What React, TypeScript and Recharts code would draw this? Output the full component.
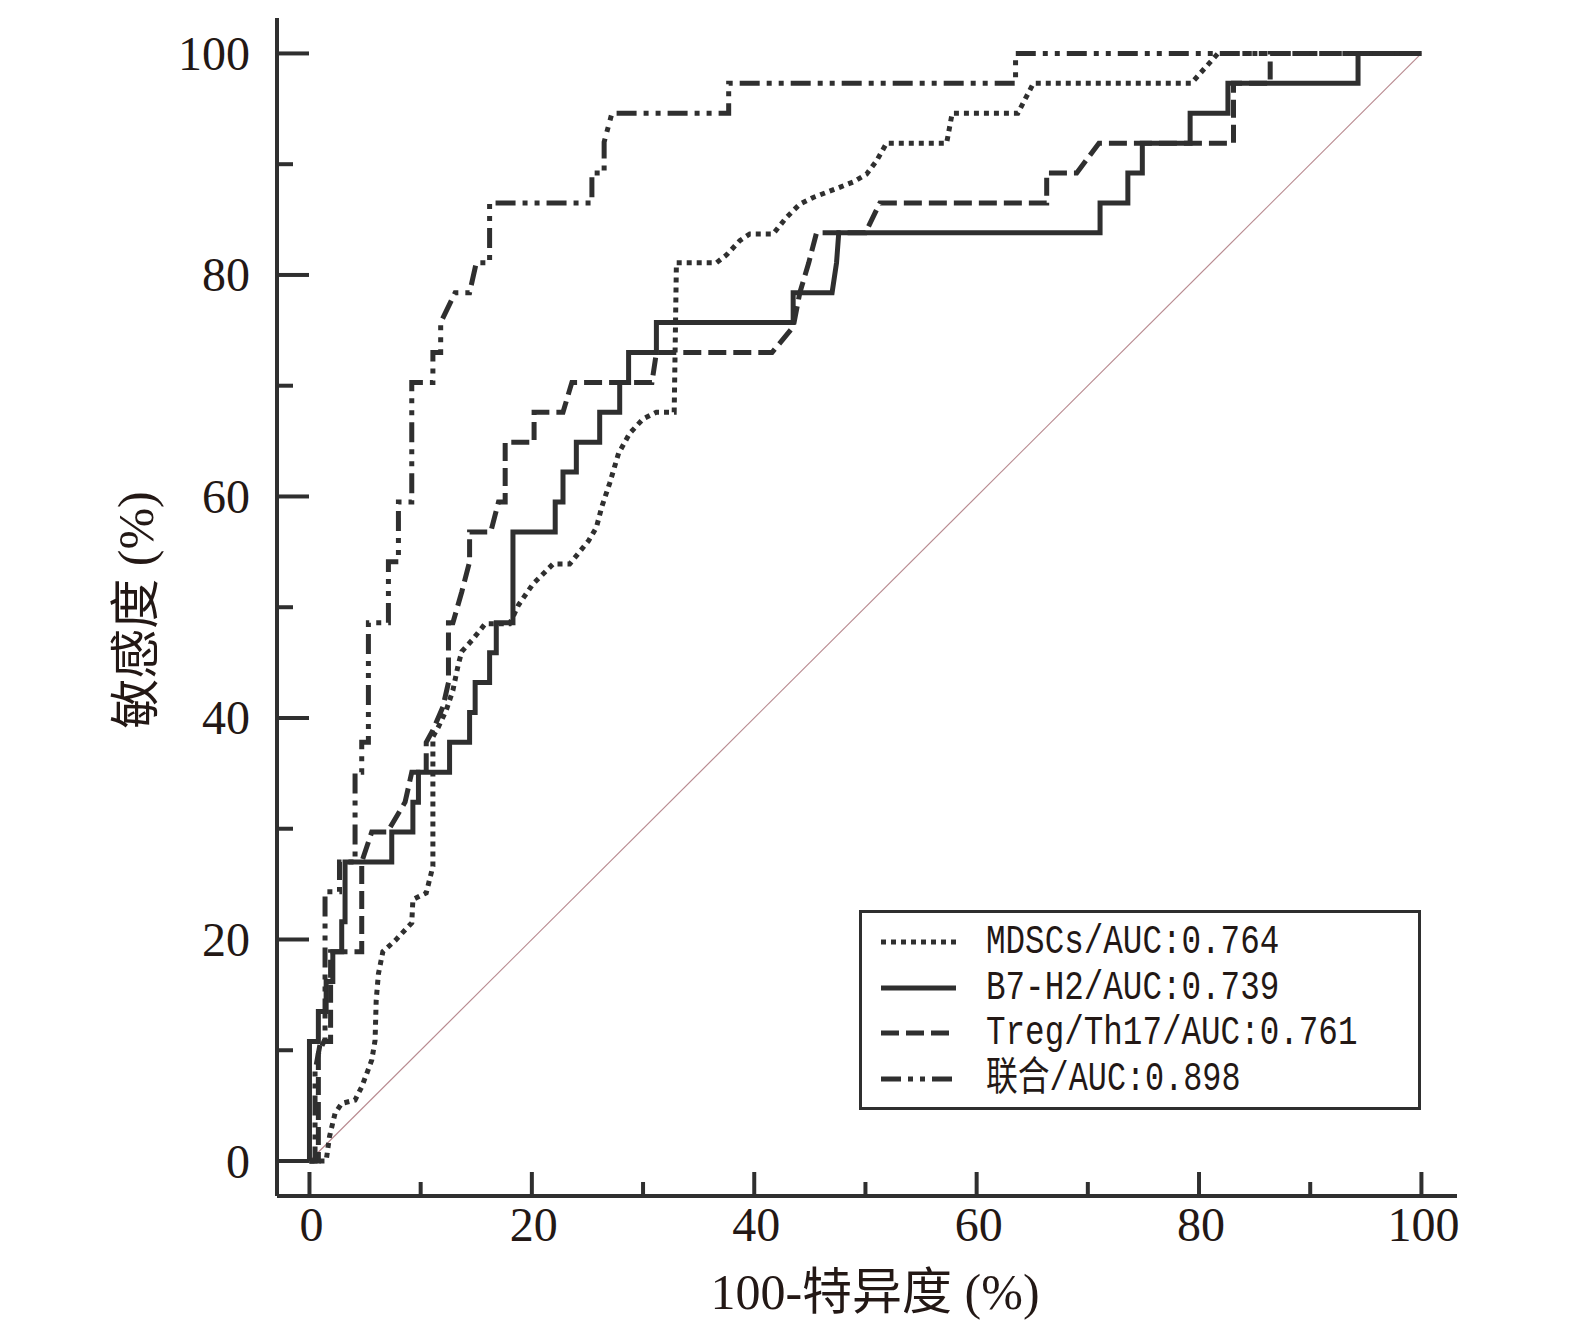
import { LineChart, Line, XAxis, YAxis, Label } from 'recharts'

// ROC curves, points as [100 - specificity, sensitivity] in %
const TICKS = [0, 10, 20, 30, 40, 50, 60, 70, 80, 90, 100]
const X_TITLE = '100-特异度 (%)'
const Y_TITLE = '敏感度 (%)'

const mdscs: [number, number][] = [
    [0, 0], [1.5, 0], [1.8, 2.2], [2.3, 4.3], [2.9, 5.2], [4.1, 5.5], [4.7, 6.7], [5.6, 9.1],
    [5.9, 10.9], [6.0, 14.5], [6.2, 16.9], [6.6, 18.9], [7.7, 19.9], [9.2, 21.5], [9.3, 23.6],
    [10.5, 24.2], [11.1, 26.6], [11.1, 38.3], [11.6, 39.2], [12.3, 40.7], [12.9, 42.5],
    [13.4, 44.9], [13.7, 46.0], [14.6, 47.0], [15.8, 48.5], [18.0, 48.5], [18.8, 50.2],
    [20.1, 52.1], [21.9, 53.9], [23.4, 53.9], [25.1, 56.0], [25.8, 57.2], [26.3, 59.1],
    [27.0, 61.2], [27.8, 63.9], [28.8, 65.7], [30.0, 67.0], [31.2, 67.6], [32.8, 67.6],
    [33.0, 81.1], [36.6, 81.1], [37.5, 81.8], [38.7, 83.1], [39.6, 83.7], [41.7, 83.7],
    [42.9, 85.2], [44.1, 86.4], [45.3, 87.0], [47.4, 87.8], [48.9, 88.4], [50.1, 89.1],
    [51.0, 90.3], [51.9, 91.9], [57.3, 91.9], [57.8, 94.6], [63.7, 94.6], [65.1, 97.3],
    [79.3, 97.3], [81.7, 100], [100, 100],
]

const b7h2: [number, number][] = [
    [0, 0], [0, 10.8], [0.8, 10.8], [0.8, 13.5], [1.5, 13.5], [1.5, 16.2], [2.1, 16.2],
    [2.1, 18.9], [2.9, 18.9], [2.9, 21.6], [3.2, 21.6], [3.2, 27.0], [7.4, 27.0], [7.4, 29.7],
    [9.3, 29.7], [9.3, 32.4], [9.8, 32.4], [9.8, 35.1], [12.6, 35.1], [12.6, 37.8], [14.4, 37.8],
    [14.4, 40.5], [14.9, 40.5], [14.9, 43.2], [16.2, 43.2], [16.2, 45.9], [16.8, 45.9],
    [16.8, 48.6], [18.3, 48.6], [18.3, 56.8], [22.1, 56.8], [22.1, 59.5], [22.8, 59.5],
    [22.8, 62.2], [24.0, 62.2], [24.0, 64.9], [26.1, 64.9], [26.1, 67.6], [27.9, 67.6],
    [27.9, 70.3], [28.7, 70.3], [28.7, 73.0], [31.2, 73.0], [31.2, 75.7], [43.5, 75.7],
    [43.5, 78.4], [47.0, 78.4], [47.4, 81.1], [47.6, 83.8], [71.1, 83.8], [71.1, 86.5],
    [73.6, 86.5], [73.6, 89.2], [74.9, 89.2], [74.9, 91.9], [79.2, 91.9], [79.2, 94.6],
    [82.6, 94.6], [82.6, 97.3], [94.3, 97.3], [94.3, 100], [100, 100],
]

const tregTh17: [number, number][] = [
    [0, 0], [0.8, 0], [0.8, 9.7], [1.3, 10.8], [1.9, 10.8], [1.9, 18.9], [4.7, 18.9], [4.7, 27.0],
    [5.6, 29.7], [7.0, 29.7], [8.6, 32.4], [9.2, 35.1], [10.5, 35.1], [10.5, 37.8], [11.1, 38.9],
    [12.0, 41.0], [12.5, 43.2], [12.5, 48.6], [12.9, 48.6], [13.7, 51.4], [14.4, 54.1],
    [14.4, 56.8], [16.3, 56.8], [17.0, 59.5], [17.6, 59.5], [17.6, 64.9], [20.2, 64.9],
    [20.2, 67.6], [22.8, 67.6], [23.6, 70.3], [30.8, 70.3], [31.2, 73.0], [41.6, 73.0],
    [43.5, 75.3], [44.1, 78.4], [44.9, 81.1], [45.6, 83.8], [50.0, 83.8], [51.3, 86.5],
    [66.3, 86.5], [66.3, 89.2], [69.0, 89.2], [71.0, 91.9], [83.1, 91.9], [83.1, 97.3],
    [86.4, 97.3], [86.4, 100], [100, 100],
]

const combined: [number, number][] = [
    [0, 0], [0.5, 0], [0.5, 8.1], [1.0, 10.8], [1.4, 10.8], [1.4, 24.3], [2.7, 24.3], [2.7, 27.0],
    [4.1, 27.0], [4.1, 35.1], [4.7, 35.1], [4.7, 37.8], [5.3, 37.8], [5.3, 48.6], [7.1, 48.6],
    [7.1, 54.1], [8.0, 54.1], [8.0, 59.5], [9.2, 59.5], [9.2, 70.3], [11.1, 70.3], [11.1, 73.0],
    [11.8, 73.0], [11.8, 75.7], [13.1, 78.4], [14.4, 78.4], [15.0, 81.1], [16.2, 81.1],
    [16.2, 86.5], [25.4, 86.5], [25.4, 89.2], [26.5, 89.2], [26.5, 92.0], [27.2, 94.6],
    [37.7, 94.6], [37.7, 97.3], [63.5, 97.3], [63.5, 100], [100, 100],
]

const chance: [number, number][] = [[0, 0], [100, 100]]

const INK = '#2f2f2f'
const TEXT = '#231815'
const SERIF = "'Liberation Serif', 'Noto Sans CJK SC', serif"
const MONO = "'Liberation Mono', 'Noto Sans CJK SC', monospace"

const SERIES = [
    { key: 'mdscs', name: 'MDSCs', auc: '0.764', points: mdscs, dash: '5 5' },
    { key: 'b7h2', name: 'B7-H2', auc: '0.739', points: b7h2, dash: undefined },
    { key: 'treg', name: 'Treg/Th17', auc: '0.761', points: tregTh17, dash: '18 7' },
    { key: 'combined', name: '联合', auc: '0.898', points: combined, dash: '20 7 5 7 5 7' },
]

const toRows = (pts: [number, number][]) => pts.map(([fpr, tpr]) => ({ fpr, tpr }))

function YTick({ x, y, payload }: any) {
    const v = payload.value
    const major = v % 20 === 0
    return (
        <g>
            <line x1={x} x2={x + (major ? 32 : 16)} y1={y} y2={y} stroke={INK} strokeWidth={4} />
            {major && (
                <text x={x - 27} y={y} textAnchor="end" dominantBaseline="central"
                    fontFamily={SERIF} fontSize={48} fill={TEXT}>{v}</text>
            )}
        </g>
    )
}

function XTick({ x, y, payload }: any) {
    const v = payload.value
    const major = v % 20 === 0
    return (
        <g>
            <line x1={x} x2={x} y1={y} y2={y - (major ? 24 : 14)} stroke={INK} strokeWidth={4} />
            {major && (
                <text x={x + 2} y={y + 28} textAnchor="middle" dominantBaseline="central"
                    fontFamily={SERIF} fontSize={48} fill={TEXT}>{v}</text>
            )}
        </g>
    )
}

const labelWidth = (s: string) =>
    Array.from(s).reduce((w, ch) => w + (/[\u4e00-\u9fff]/.test(ch) ? 29.5 : 19.55), 0)

function RocLegend() {
    const rowY = [32, 78, 123, 169]
    return (
        <svg width={660} height={204} style={{ position: 'absolute', left: 859, top: 910, overflow: 'visible' }}>
            <rect x={1.5} y={1.5} width={559} height={197} fill="#fff" stroke={INK} strokeWidth={3} />
            {SERIES.map((s, i) => {
                const label = `${s.name}/AUC:${s.auc}`
                return (
                    <g key={s.key}>
                        <line x1={22} x2={97} y1={rowY[i]} y2={rowY[i]} stroke={INK} strokeWidth={5}
                            strokeDasharray={s.dash} />
                        <text x={127} y={rowY[i]} dominantBaseline="central" fontFamily={MONO}
                            fontSize={40} fill={TEXT} textLength={labelWidth(label)}
                            lengthAdjust="spacingAndGlyphs">{label}</text>
                    </g>
                )
            })}
        </svg>
    )
}

export default function App() {
    return (
        <div style={{ position: 'absolute', left: 0, top: 0, width: 1575, height: 1329, background: '#fff' }}>
            <LineChart width={1575} height={1329} margin={{ top: 18, right: 118, bottom: 73, left: 217 }}>
                <XAxis
                    dataKey="fpr"
                    type="number"
                    domain={[-2.92, 103.2]}
                    allowDataOverflow
                    ticks={TICKS}
                    interval={0}
                    height={60}
                    tickSize={0}
                    tickMargin={0}
                    tickLine={false}
                    axisLine={{ stroke: INK, strokeWidth: 4 }}
                    tick={<XTick />}
                >
                    <Label
                        content={(p: any) => {
                            const vb = p.viewBox
                            return (
                                <text x={vb.x + vb.width / 2 + 8} y={vb.y + 113} textAnchor="middle"
                                    fontFamily={SERIF} fontSize={50} fill={TEXT}>{X_TITLE}</text>
                            )
                        }}
                    />
                </XAxis>
                <YAxis
                    dataKey="tpr"
                    type="number"
                    domain={[-3.16, 103.2]}
                    allowDataOverflow
                    ticks={TICKS}
                    interval={0}
                    width={60}
                    tickSize={0}
                    tickMargin={0}
                    tickLine={false}
                    axisLine={{ stroke: INK, strokeWidth: 4 }}
                    tick={<YTick />}
                >
                    <Label
                        content={(p: any) => {
                            const vb = p.viewBox
                            const cx = vb.x - 81
                            const cy = vb.y + vb.height / 2 + 3
                            return (
                                <text x={cx} y={cy} textAnchor="middle" dominantBaseline="central"
                                    transform={`rotate(-90 ${cx} ${cy})`}
                                    fontFamily={SERIF} fontSize={50} fill={TEXT}>{Y_TITLE}</text>
                            )
                        }}
                    />
                </YAxis>
                <Line
                    data={toRows(chance)}
                    dataKey="tpr"
                    type="linear"
                    stroke="#b98b91"
                    strokeWidth={1.2}
                    dot={false}
                    activeDot={false}
                    isAnimationActive={false}
                />
                {SERIES.map((s) => (
                    <Line
                        key={s.key}
                        data={toRows(s.points)}
                        dataKey="tpr"
                        name={s.name}
                        type="linear"
                        stroke={INK}
                        strokeWidth={5}
                        strokeDasharray={s.dash}
                        strokeLinejoin="miter"
                        dot={false}
                        activeDot={false}
                        isAnimationActive={false}
                    />
                ))}
            </LineChart>
            <RocLegend />
        </div>
    )
}
